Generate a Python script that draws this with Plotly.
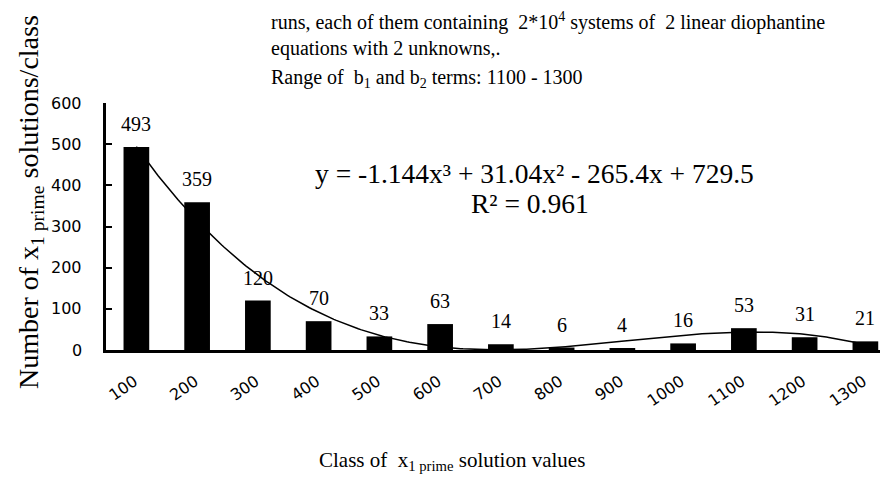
import numpy as np
import plotly.graph_objects as go

classes = ["100", "200", "300", "400", "500", "600", "700", "800", "900", "1000", "1100", "1200", "1300"]
counts = [493, 359, 120, 70, 33, 63, 14, 6, 4, 16, 53, 31, 21]
class_index = list(range(1, len(classes) + 1))
y_ticks = [0, 100, 200, 300, 400, 500, 600]

title_lines = [
    "runs, each of them containing  2*10<sup>4</sup> systems of  2 linear diophantine",
    "equations with 2 unknowns,.",
    "Range of  b<sub>1</sub> and b<sub>2</sub> terms: 1100 - 1300",
]
equation_text = "y = -1.144x³ + 31.04x² - 265.4x + 729.5"
r2_text = "R² = 0.961"

# polynomial trendline (order 3) fitted to the data
coef = np.polyfit(class_index, counts, 3)
xs = np.linspace(1, len(classes), 300)
ys = np.polyval(coef, xs)

SERIF = "Liberation Serif"
SANS = "DejaVu Sans"

# page body has an 8px margin, so the figure is sized to fit the 888x479 window
W, H = 880, 471
L, R, T, B = 98, 0, 95, 129
pw, ph = W - L - R, H - T - B
cat_px = 60.75

def px(xp):
    return (xp - L) / pw

def py(yp):
    return (H - B - yp) / ph

fig = go.Figure()
fig.add_trace(go.Scatter(x=xs, y=ys, mode="lines", line=dict(color="black", width=1.5),
                         hoverinfo="skip", showlegend=False))
fig.add_trace(go.Bar(x=class_index, y=counts, width=0.423, marker=dict(color="black", line=dict(width=0)),
                     showlegend=False))

for xi, v in zip(class_index, counts):
    fig.add_annotation(x=xi, y=v, text=str(v), showarrow=False, yshift=23, yanchor="middle",
                       font=dict(family=SERIF, size=20, color="black"))

# y tick labels
for t in y_ticks:
    fig.add_annotation(xref="paper", x=0, y=t, text=str(t), showarrow=False, xanchor="right",
                       yanchor="middle", xshift=-22, font=dict(family=SANS, size=16, color="black"))

for i, (line, yp) in enumerate(zip(title_lines, [13, 41, 70])):
    fig.add_annotation(xref="paper", yref="paper", x=px(261), y=py(yp), xanchor="left", yanchor="middle",
                       text=line, showarrow=False, font=dict(family=SERIF, size=20, color="black"))

fig.add_annotation(xref="paper", yref="paper", x=px(526), y=py(165), xanchor="center", yanchor="middle",
                   text=equation_text, showarrow=False, font=dict(family=SERIF, size=27.5, color="black"))
fig.add_annotation(xref="paper", yref="paper", x=px(522), y=py(195), xanchor="center", yanchor="middle",
                   text=r2_text, showarrow=False, font=dict(family=SERIF, size=27.5, color="black"))

fig.add_annotation(xref="paper", yref="paper", x=px(444), y=py(453), xanchor="center", yanchor="middle",
                   text="Class of  x<sub>1 prime</sub> solution values", showarrow=False,
                   font=dict(family=SERIF, size=21, color="black"))
fig.add_annotation(xref="paper", yref="paper", x=px(22), y=py(194), xanchor="center", yanchor="middle",
                   textangle=-90, text="Number of x<sub>1 prime</sub> solutions/class", showarrow=False,
                   font=dict(family=SERIF, size=28, color="black"))

fig.update_layout(
    width=W, height=H,
    margin=dict(l=L, r=R, t=T, b=B, pad=0),
    paper_bgcolor="white", plot_bgcolor="white",
    bargap=0.5,
)
fig.update_xaxes(
    range=[0.5, 0.5 + pw / cat_px], tickmode="array", tickvals=class_index, ticktext=classes,
    tickangle=-35, showline=True, linecolor="black", linewidth=3, showgrid=False, zeroline=False,
    ticks="", ticklabelstandoff=13, ticklabelshift=-2, tickfont=dict(family=SANS, size=16, color="black"),
)
fig.update_yaxes(
    range=[0, 600], tickmode="array", tickvals=y_ticks, showticklabels=False,
    showline=True, linecolor="black", linewidth=3, showgrid=False, zeroline=False,
    ticks="inside", ticklen=6, tickwidth=2, tickcolor="black",
)

fig.write_html("out.html")
